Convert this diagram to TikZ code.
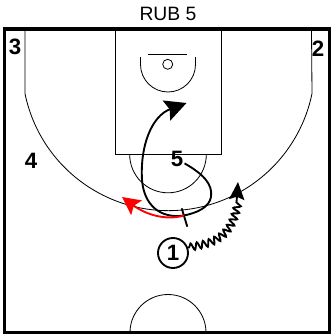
\documentclass[tikz,border=0pt]{standalone}
\usepackage{fontspec}
\setmainfont{Liberation Sans}
\usetikzlibrary{decorations.pathmorphing, arrows.meta, positioning}
\tikzset{
  court/.style={line width=0.7pt},
  num/.style={font=\fontsize{19}{21}\selectfont\bfseries, inner sep=1pt},
  cut/.style={line width=1.6pt, -{Stealth[length=#1, width=#1, inset=1mm]}},
  cut/.default=6.4mm,
  dribble/.style={line width=1.6pt, -{Stealth[length=5.3mm, width=4.6mm, inset=0.9mm]},
    decoration={snake, amplitude=3pt, segment length=5.5pt, pre length=1pt, post length=5.6mm},
    decorate}
}

\begin{document}
\begin{tikzpicture}[x=0.03cm, y=-0.03cm]
  \useasboundingbox (0,0) rectangle (331,335);
  \node (title) at (168,14) {\fontsize{16.5}{18}\selectfont RUB 5};
  \draw[line width=2.8pt] (4.5,29) rectangle (329.5,332.5);
  \draw[court] (115,29) -- (115,154.5) -- (221,154.5) -- (221,29);
  \draw[court] (148,54) -- (187,54);
  \draw[court] (167.7,64.3) circle[radius=5];
  \draw[court] (140.5,57) -- (140.5,64.5) arc[start angle=180, end angle=0, radius=27.5] -- (195.5,57);
  \draw[court] (129.7,154.5) arc[start angle=180, end angle=0, radius=38.3];
  \draw[court] (25,29) -- (25,93.6) arc[start angle=168.4, end angle=11.6, radius=146.5] -- (311.5,29);
  \draw[court] (130,332.5) arc[start angle=180, end angle=360, radius=38];

  \node[num] (p3) at (15,47) {3};
  \node[num] (p2) at (318,49) {2};
  \node[num] (p4) at (31,161) {4};
  \node[num] (p5) at (177,159) {5};
  \node[num, circle, draw, line width=1.6pt, minimum size=0.9cm, inner sep=0pt] (p1) at (173,253) {1};

  \coordinate (scr) at (184,215.5);
  \coordinate (scrA) at (181.7,208.3);
  \coordinate (scrB) at (187.3,226.7);
  \coordinate (rim) at (186.5,103);
  \coordinate (wing) at (122,197);
  \coordinate (top) at (238,182);

  \draw[cut] (p5.-30) .. controls (203,174) and (213,184) .. (211,197)
    .. controls (209,208) and (196,213) .. (scr)
    .. controls (160,219) and (144,205) .. (142,180)
    .. controls (140,145) and (152,116) .. (rim);
  \draw[line width=1.6pt] (scrA) -- (scrB);
  \draw[cut=5.4mm, red] (scr) .. controls (165,221) and (145,214) .. (wing);
  \draw[dribble] (p1.20) .. controls (212,243) and (237,240) .. (top);
\end{tikzpicture}
\end{document}
